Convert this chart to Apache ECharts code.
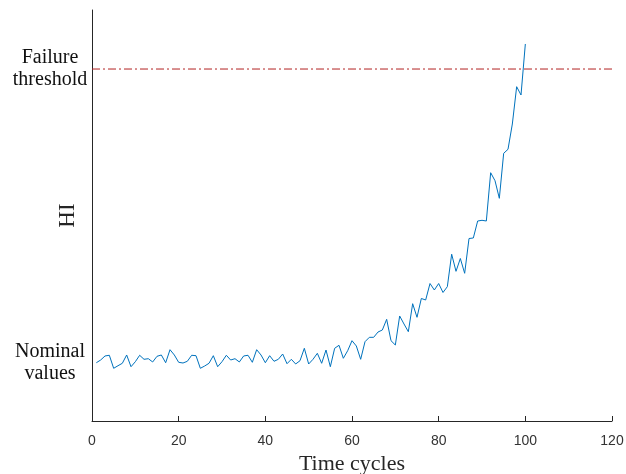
<!DOCTYPE html>
<html>
<head>
<meta charset="utf-8">
<script src="https://cdn.jsdelivr.net/npm/echarts@6/dist/echarts.min.js"></script>
<style>
html,body{margin:0;padding:0;background:#fff;}
#chart{width:626px;height:474px;}
</style>
</head>
<body>
<div id="chart"></div>
<script>
// Time cycles 1..100
const cycles = [1,2,3,4,5,6,7,8,9,10,11,12,13,14,15,16,17,18,19,20,
  21,22,23,24,25,26,27,28,29,30,31,32,33,34,35,36,37,38,39,40,
  41,42,43,44,45,46,47,48,49,50,51,52,53,54,55,56,57,58,59,60,
  61,62,63,64,65,66,67,68,69,70,71,72,73,74,75,76,77,78,79,80,
  81,82,83,84,85,86,87,88,89,90,91,92,93,94,95,96,97,98,99,100];
// Health indicator (arbitrary units)
const hi = [14.18,14.84,15.82,15.99,12.82,13.45,14.04,16.06,13.21,14.43,
  15.99,15.01,15.16,14.36,15.74,16.06,14.18,17.35,16.06,14.28,
  14.11,14.53,15.99,15.89,12.82,13.38,14.04,15.89,13.21,14.43,
  15.99,14.84,15.16,14.36,15.82,15.99,14.28,17.35,16.06,14.18,
  15.89,14.53,15.01,16.30,13.94,15.01,13.87,14.67,17.69,13.87,
  15.01,16.47,14.04,17.27,13.21,17.69,18.42,15.26,17.10,19.54,
  18.25,15.01,19.29,20.36,20.36,21.65,22.14,24.74,19.54,18.49,
  25.55,23.60,21.73,28.54,25.23,29.81,29.44,33.45,31.87,33.45,
  31.27,32.68,40.58,36.42,39.54,35.94,44.40,44.53,48.66,48.83,
  48.66,60.41,58.47,54.18,65.13,66.11,72.26,81.34,79.32,91.73];
const failureThreshold = 85.64;
const nominalLevel = 14.1;
const thresholdX = [0, 120];
const yLabelValues = [nominalLevel, failureThreshold];
const yLabelTexts = ['Nominal\nvalues', 'Failure\nthreshold'];
const xTicks = [0, 20, 40, 60, 80, 100, 120];

const chart = echarts.init(document.getElementById('chart'), null, {renderer: 'canvas'});
const serif = '"Liberation Serif", "Times New Roman", serif';
chart.setOption({
  animation: false,
  backgroundColor: '#ffffff',
  grid: {left: 92, right: 14, top: 10, bottom: 53, outerBoundsMode: 'none'},
  xAxis: {
    type: 'value', min: xTicks[0], max: xTicks[xTicks.length - 1], interval: 20,
    name: 'Time cycles', nameLocation: 'middle', nameGap: 25,
    nameTextStyle: {fontFamily: serif, fontSize: 22, color: '#262626'},
    axisLine: {show: true, lineStyle: {color: '#262626', width: 1}},
    axisTick: {show: true, inside: true, length: 5, lineStyle: {color: '#262626'}},
    axisLabel: {fontFamily: '"Liberation Sans", Arial, sans-serif', fontSize: 14, color: '#333333', margin: 13},
    splitLine: {show: false}
  },
  yAxis: {
    type: 'value', min: 0, max: 100,
    name: 'HI', nameLocation: 'middle', nameGap: 13, nameMoveOverlap: false,
    nameTextStyle: {fontFamily: serif, fontSize: 23, color: '#262626'},
    axisLine: {show: true, lineStyle: {color: '#262626', width: 1}},
    axisTick: {show: false},
    axisLabel: {
      customValues: yLabelValues,
      formatter: function (v) {
        const idx = yLabelValues.findIndex(function (u) { return Math.abs(u - v) < 1e-6; });
        return idx >= 0 ? yLabelTexts[idx] : '';
      },
      align: 'center', margin: 42,
      fontFamily: serif, fontSize: 20, lineHeight: 22, color: '#111111'
    },
    splitLine: {show: false}
  },
  series: [{
    type: 'line',
    data: cycles.map(function (c, i) { return [c, hi[i]]; }),
    showSymbol: false, symbol: 'none',
    lineStyle: {color: '#0072BD', width: 1},
    z: 3
  }, {
    type: 'line',
    data: thresholdX.map(function (x) { return [x, failureThreshold]; }),
    showSymbol: false, symbol: 'none', silent: true,
    lineStyle: {color: '#B22222', width: 1, type: [8, 3, 2, 3]},
    z: 2
  }]
});
</script>
</body>
</html>
